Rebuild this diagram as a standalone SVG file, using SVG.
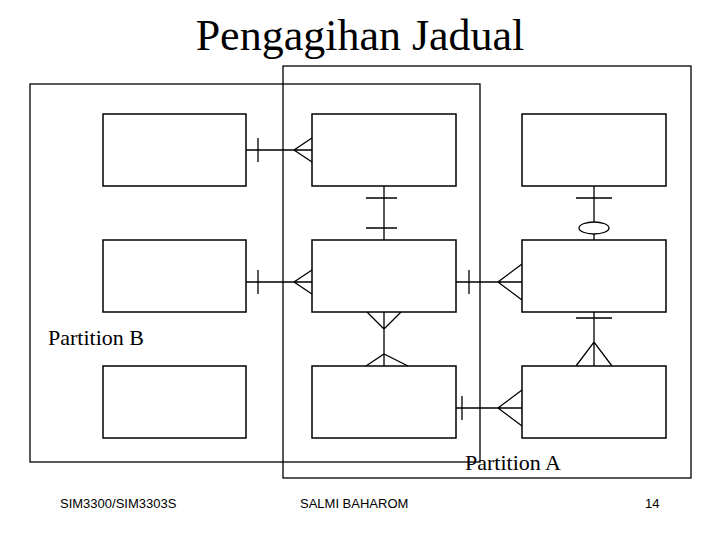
<svg xmlns="http://www.w3.org/2000/svg" width="720" height="540" viewBox="0 0 720 540">
<style>
.b{fill:#fff;stroke:#000;stroke-width:1.5}
.p{fill:none;stroke:#000;stroke-width:1.3}
.l{fill:none;stroke:#000;stroke-width:1.3}
.t{font-family:"Liberation Serif",serif;fill:#000}
.f{font-family:"Liberation Sans",sans-serif;font-size:13px;fill:#000}
</style>
<rect width="720" height="540" fill="#fff"/>
<text class="t" x="360" y="50" font-size="44" text-anchor="middle">Pengagihan Jadual</text>
<rect class="p" x="30" y="84" width="450" height="378"/>
<rect class="p" x="283" y="66" width="408" height="412"/>
<g id="n1"><rect class="b" x="103" y="114" width="143" height="72"/></g>
<g id="n2"><rect class="b" x="312" y="114" width="144" height="72"/></g>
<g id="n3"><rect class="b" x="522" y="114" width="144" height="72"/></g>
<g id="n4"><rect class="b" x="103" y="240" width="143" height="72"/></g>
<g id="n5"><rect class="b" x="312" y="240" width="144" height="72"/></g>
<g id="n6"><rect class="b" x="522" y="240" width="144" height="72"/></g>
<g id="n7"><rect class="b" x="103" y="366" width="143" height="72"/></g>
<g id="n8"><rect class="b" x="312" y="366" width="144" height="72"/></g>
<g id="n9"><rect class="b" x="522" y="366" width="144" height="72"/></g>
<g id="connectors" class="l">
<path d="M246 150H312M258 138V162M312 138L294 150L312 162"/>
<path d="M246 282H312M258 270V294M312 270L294 282L312 294"/>
<path d="M456 282H522M469 270V294M522 264L498 282L522 300"/>
<path d="M456 408H522M462 396V420M522 390L498 408L522 426"/>
<path d="M384 186V240M366 198H397M366 228H397"/>
<path d="M384 312V366M367 312L384 329L401 312M366 366L384 354L408 366"/>
<path d="M594 186V222M594 234V240M576 198H612"/>
<ellipse cx="594" cy="228" rx="15" ry="6"/>
<path d="M594 312V366M576 318H612M576 366L594 342L612 366"/>
</g>
<text class="t" x="48" y="345" font-size="22">Partition B</text>
<text class="t" x="465" y="470" font-size="22">Partition A</text>
<text class="f" x="60" y="508">SIM3300/SIM3303S</text>
<text class="f" x="300" y="508">SALMI BAHAROM</text>
<text class="f" x="645" y="508">14</text>
</svg>
